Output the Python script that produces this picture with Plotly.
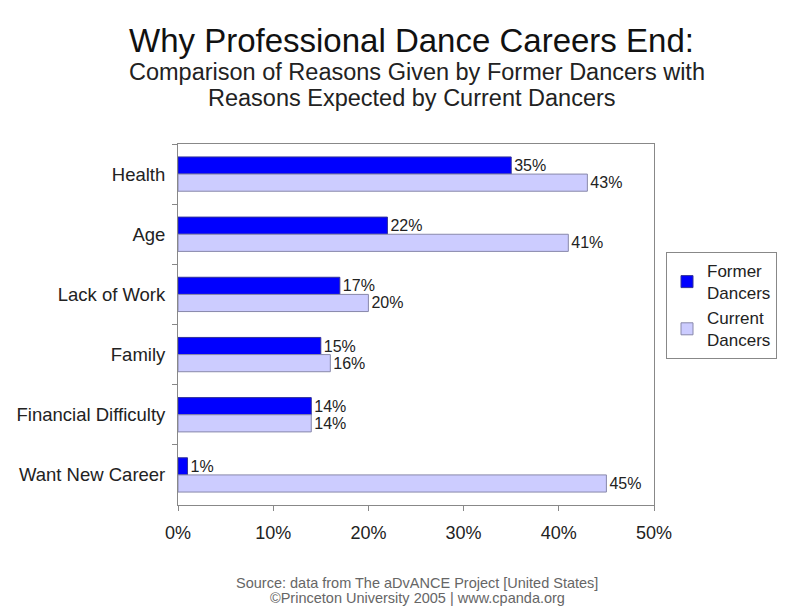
import plotly.graph_objects as go

categories = ["Health", "Age", "Lack of Work", "Family", "Financial Difficulty", "Want New Career"]
former_dancers = [35, 22, 17, 15, 14, 1]
current_dancers = [43, 41, 20, 16, 14, 45]
x_ticks = [0, 10, 20, 30, 40, 50]
x_tick_labels = ["0%", "10%", "20%", "30%", "40%", "50%"]

FONT = "Liberation Sans, Arial, sans-serif"
OFF = 8  # page body margin offset
W, H = 791 - OFF, 611 - OFF
# plot area in reference pixel coordinates
PL, PR, PT, PB = 178, 654, 144, 505

fig = go.Figure()
fig.add_trace(go.Bar(
    y=categories, x=former_dancers, orientation="h", name="Former<br>Dancers",
    marker=dict(color="#0000FF", line=dict(color="#333399", width=1)),
    text=[f"{v}%" for v in former_dancers], textposition="outside", constraintext="none",
    textfont=dict(size=16, color="#222222", family=FONT), cliponaxis=False,
))
fig.add_trace(go.Bar(
    y=categories, x=current_dancers, orientation="h", name="Current<br>Dancers",
    marker=dict(color="#CCCCFF", line=dict(color="#8888AA", width=1)),
    text=[f"{v}%" for v in current_dancers], textposition="outside", constraintext="none",
    textfont=dict(size=16, color="#222222", family=FONT), cliponaxis=False,
))

plot_w = PR - PL
plot_h = PB - PT

def px_to_paper(xpx, ypx):
    return (xpx - PL) / plot_w, (PB - ypx) / plot_h

lx, ly = px_to_paper(666, 252)

fig.update_layout(
    width=W, height=H,
    paper_bgcolor="white", plot_bgcolor="white",
    margin=dict(l=PL - OFF, r=W - (PR - OFF), t=PT - OFF, b=H - (PB - OFF), autoexpand=False),
    barmode="group", bargap=0.43, bargroupgap=0,
    font=dict(family=FONT, size=18, color="#222222"),
    showlegend=True,
    legend=dict(
        x=lx, xanchor="left", y=ly, yanchor="top", traceorder="normal",
        bordercolor="#888888", borderwidth=1, bgcolor="white",
        font=dict(size=17, family=FONT, color="#222222"),
        tracegroupgap=0, itemwidth=30,
    ),
    xaxis=dict(
        range=[0, 50], tickvals=x_ticks, ticktext=x_tick_labels,
        showgrid=False, zeroline=False,
        showline=True, linecolor="#888888", linewidth=1, mirror=True,
        ticks="outside", ticklen=5, tickcolor="#888888",
        tickfont=dict(size=18, family=FONT), ticklabelstandoff=6, fixedrange=True,
    ),
    yaxis=dict(
        autorange="reversed", type="category", tickson="boundaries",
        showgrid=False, showline=True, linecolor="#888888", linewidth=1, mirror=True,
        ticks="outside", ticklen=5, tickcolor="#888888",
        tickfont=dict(size=18.5, family=FONT), ticklabelstandoff=8,
    ),
)

texts = [
    ("Why Professional Dance Careers End:", 411, 40, 33, "#111111"),
    ("Comparison of Reasons Given by Former Dancers with", 417, 72, 23.5, "#222222"),
    ("Reasons Expected by Current Dancers", 412, 98, 23.5, "#222222"),
    ("Source: data from The aDvANCE Project [United States]", 417, 583, 14.5, "#666666"),
    ("©Princeton University 2005 | www.cpanda.org", 417, 598, 14.5, "#666666"),
]
for t, xpx, ypx, size, col in texts:
    ax, ay = px_to_paper(xpx, ypx)
    fig.add_annotation(text=t, x=ax, y=ay, xref="paper", yref="paper",
                       xanchor="center", yanchor="middle", showarrow=False,
                       font=dict(size=size, family=FONT, color=col))

fig.write_html("out.html")
